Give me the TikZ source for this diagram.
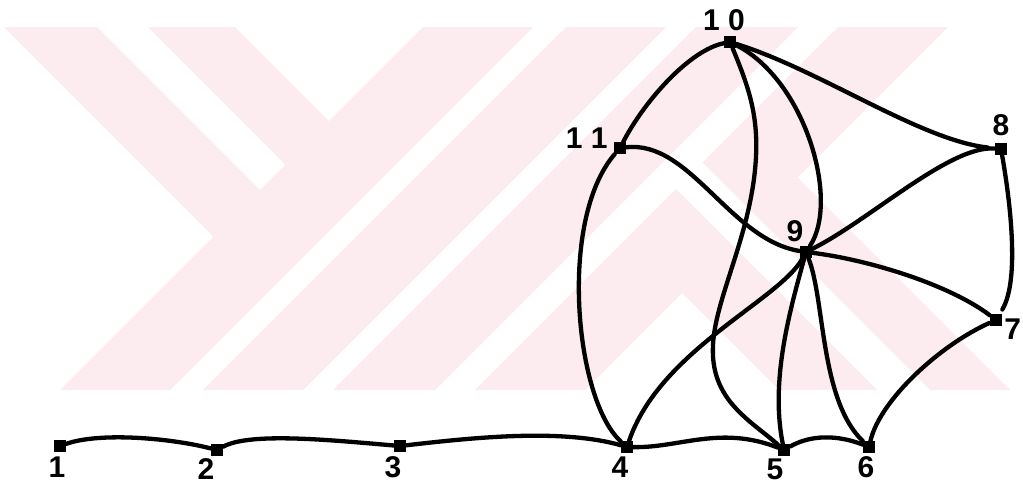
\documentclass[tikz,border=0pt]{standalone}
\usepackage{fontspec}
\newfontfamily\lblfont{Liberation Sans}
\definecolor{wmpink}{RGB}{252,235,239}
\usetikzlibrary{positioning}

\begin{document}
\begin{tikzpicture}[
        x=1pt, y=-1pt,
        vtx/.style={rectangle, fill=black, inner sep=0pt, minimum size=12pt},
        lbl/.style={font={\lblfont\bfseries\fontsize{30}{34}\selectfont}, inner sep=0pt},
        link/.style={line width=4.3pt, line cap=round},
        wm/.style={fill=wmpink}
    ]
        \useasboundingbox (0,0) rectangle (1023,488);

        % Watermark
        \fill[wm] (4,27) -- (97,27) -- (260,190) -- (213.5,236.5) -- cycle;
        \fill[wm] (148,27) -- (235,27) -- (329,121) -- (285.5,164.5) -- cycle;
        \fill[wm] (423,27) -- (533,27) -- (170,390) -- (60,390) -- cycle;
        \fill[wm] (566,27) -- (666,27) -- (303,390) -- (203,390) -- cycle;
        \fill[wm] (696,27) -- (798,27) -- (435,390) -- (333,390) -- cycle;
        \fill[wm] (838,27) -- (948,27) -- (757.5,217.5) -- (702.5,162.5) -- cycle;
        \fill[wm] (676,189) -- (731,244) -- (585,390) -- (475,390) -- cycle;
        \fill[wm] (757.5,217.5) -- (797.5,177.5) -- (1010,390) -- (930,390) -- cycle;
        \fill[wm] (731,244) -- (682,293) -- (779,390) -- (877,390) -- cycle;

        % Vertices
        \node[vtx] (n1) at (60,446) {};
        \node[vtx] (n2) at (217,450) {};
        \node[vtx] (n3) at (400,446) {};
        \node[vtx] (n4) at (627,447) {};
        \node[vtx] (n5) at (784,450) {};
        \node[vtx] (n6) at (869,447) {};
        \node[vtx] (n7) at (996,320) {};
        \node[vtx] (n8) at (1001,149) {};
        \node[vtx] (n9) at (806,252) {};
        \node[vtx] (n10) at (730,42) {};
        \node[vtx] (n11) at (620,148) {};

        % Labels
        \node[lbl, below=4pt of n1, xshift=-3pt] (l1) {1};
        \node[lbl, below=2pt of n2, xshift=-11pt] (l2) {2};
        \node[lbl, below=4pt of n3, xshift=-7pt] (l3) {3};
        \node[lbl, below=3pt of n4, xshift=-7pt] (l4) {4};
        \node[lbl, below=2pt of n5, xshift=-9pt] (l5) {5};
        \node[lbl, below=3pt of n6, xshift=-3pt] (l6) {6};
        \node[lbl, right=2pt of n7, yshift=-9pt] (l7) {7};
        \node[lbl, above=7pt of n8] (l8) {8};
        \node[lbl, above=4pt of n9, xshift=-11pt] (l9) {9};
        \node[lbl, above=5pt of n10, xshift=-6pt] (l10) {1 0};
        \node[lbl, left=6pt of n11, yshift=10pt] (l11) {1 1};

        % Path along the bottom
        \draw[link] (n1) .. controls (100,432) and (170,438) .. (n2);
        \draw[link] (n2) .. controls (250,432) and (330,440) .. (n3);
        \draw[link] (n3) .. controls (470,438) and (560,428) .. (n4);
        \draw[link] (n4) .. controls (680,448) and (720,425) .. (n5);
        \draw[link] (n5) .. controls (805,438) and (830,432) .. (n6);

        % Edges of the upper part
        \draw[link] (n11) .. controls (558,220) and (575,400) .. (n4);
        \draw[link] (n9) .. controls (780,300) and (660,350) .. (n4);
        \draw[link] (n10) .. controls (750,90) and (760,120) .. (755,170)
            .. controls (748,240) and (715,300) .. (713,345)
            .. controls (710,400) and (750,420) .. (n5);
        \draw[link] (n10) .. controls (805,80) and (840,200) .. (n9);
        \draw[link] (n10) .. controls (690,50) and (645,100) .. (n11);
        \draw[link] (n11) .. controls (690,140) and (730,240) .. (n9);
        \draw[link, shorten >=7pt] (n10) .. controls (820,70) and (920,140) .. (n8);
        \draw[link] (n9) .. controls (870,220) and (950,145) .. (n8);
        \draw[link, shorten >=5pt] (n8) .. controls (1010,200) and (1020,280) .. (n7);
        \draw[link] (n9) .. controls (870,260) and (950,285) .. (n7);
        \draw[link] (n7) .. controls (940,345) and (880,400) .. (n6);
        \draw[link] (n9) .. controls (825,300) and (820,400) .. (n6);
        \draw[link] (n9) .. controls (790,310) and (770,380) .. (n5);
    \end{tikzpicture}
\end{document}
